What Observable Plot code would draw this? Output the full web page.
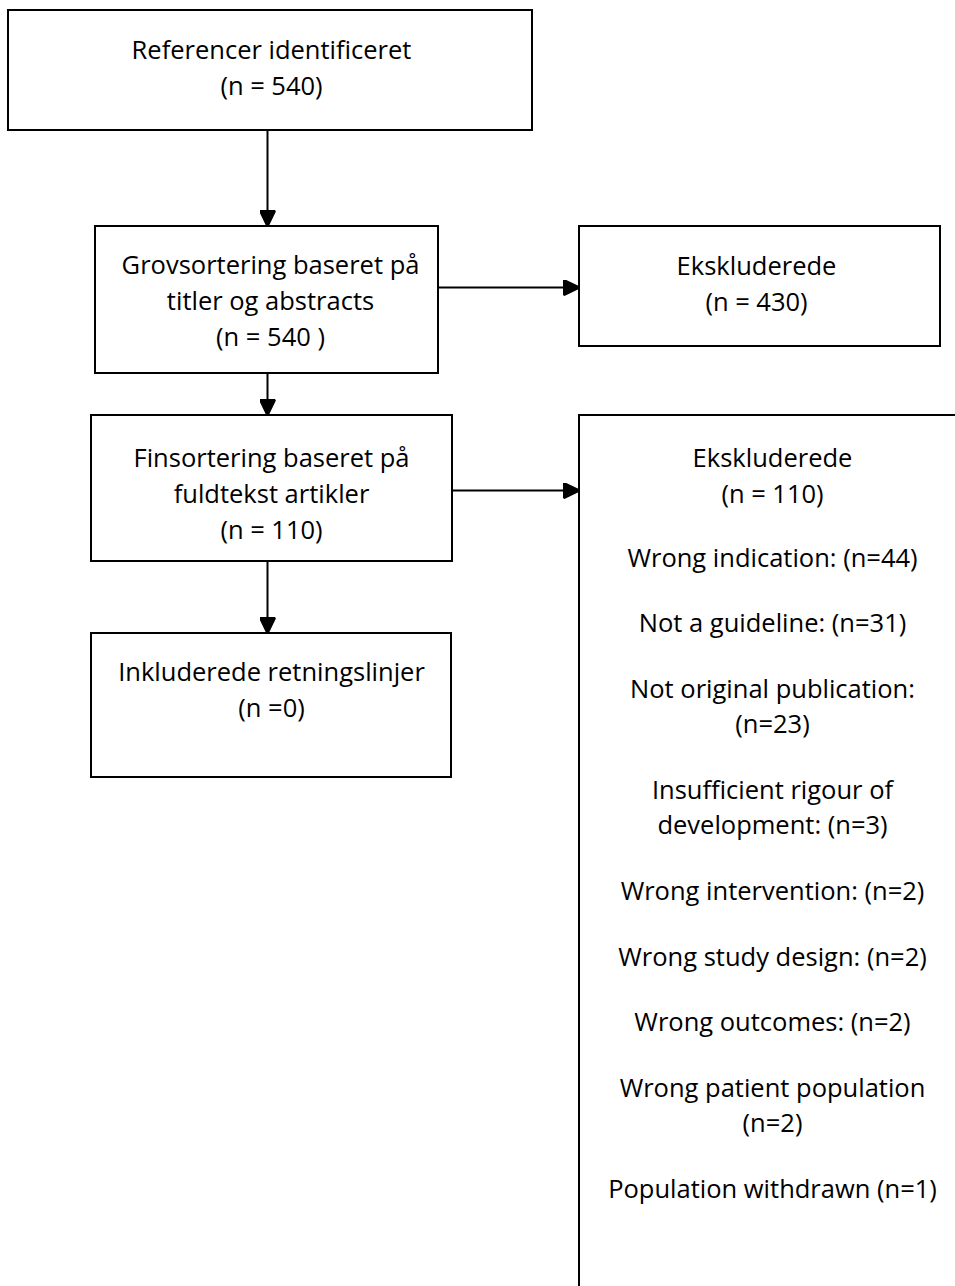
<!DOCTYPE html>
<html>
<head>
<meta charset="utf-8">
<script src="https://cdn.jsdelivr.net/npm/d3@7"></script>
<script src="https://cdn.jsdelivr.net/npm/@observablehq/plot@0.6"></script>
<style>
  html, body { margin: 0; padding: 0; background: #fff; }
  #chart svg { display: block; }
</style>
</head>
<body>
<div id="chart"></div>
<script>
// ---- Data (counts) ----
const stageNames = ["identified", "screened", "excluded1", "fulltext", "excluded2", "included"];
const stageCounts = [540, 540, 430, 110, 110, 0];
const reasonLabels = [
  "Wrong indication: (n={n})",
  "Not a guideline: (n={n})",
  "Not original publication:\n(n={n})",
  "Insufficient rigour of\ndevelopment: (n={n})",
  "Wrong intervention: (n={n})",
  "Wrong study design: (n={n})",
  "Wrong outcomes: (n={n})",
  "Wrong patient population\n(n={n})",
  "Population withdrawn (n={n})"
];
const reasonCounts = [44, 31, 23, 3, 2, 2, 2, 2, 1];

const count = (k) => stageCounts[stageNames.indexOf(k)];
const boxTexts = [
  ["Referencer identificeret", `(n = ${count("identified")})`],
  ["Grovsortering baseret på", "titler og abstracts", `(n = ${count("screened")} )`],
  ["Ekskluderede", `(n = ${count("excluded1")})`],
  ["Finsortering baseret på", "fuldtekst artikler", `(n = ${count("fulltext")})`],
  ["Inkluderede retningslinjer", `(n =${count("included")})`],
  ["Ekskluderede", `(n = ${count("excluded2")})`]
];

// ---- Layout ----
const boxLayout = [
  {x1: 8,   x2: 532, y1: 10,  y2: 130,  ty: 50,  tx: 271},
  {x1: 95,  x2: 438, y1: 226, y2: 373,  ty: 265, tx: 270},
  {x1: 579, x2: 940, y1: 226, y2: 346,  ty: 266, tx: 756},
  {x1: 91,  x2: 452, y1: 415, y2: 561,  ty: 458, tx: 271},
  {x1: 91,  x2: 451, y1: 633, y2: 777,  ty: 672, tx: 271},
  {x1: 579, x2: 990, y1: 415, y2: 1320, ty: 458, tx: 772}
];
const arrowLayout = [
  {x1: 267, y1: 130, x2: 267, y2: 226},
  {x1: 438, y1: 287, x2: 579, y2: 287},
  {x1: 267, y1: 373, x2: 267, y2: 415},
  {x1: 452, y1: 490, x2: 579, y2: 490},
  {x1: 267, y1: 561, x2: 267, y2: 633}
];
const LINE = 35.5, ITEM = 65.6;

const textRows = [];
boxTexts.forEach((lines, b) => {
  lines.forEach((t, i) => textRows.push({x: boxLayout[b].tx, y: boxLayout[b].ty + i * 36, text: t}));
});
{
  let y = 558;
  reasonLabels.forEach((lab, i) => {
    const lines = lab.replace("{n}", reasonCounts[i]).split("\n");
    lines.forEach((t, j) => { textRows.push({x: 772, y: y + j * LINE, text: t}); });
    y += (lines.length - 1) * LINE + ITEM;
  });
}

function triMarker(color, context) {
  return d3.create("svg:marker")
    .attr("viewBox", "-17 -8 18 16")
    .attr("markerWidth", 18)
    .attr("markerHeight", 16)
    .attr("markerUnits", "userSpaceOnUse")
    .attr("refX", 0)
    .attr("refY", 0)
    .attr("orient", "auto")
    .attr("fill", color)
    .call((m) => m.append("path").attr("d", "M-15.5,-7.5L0,0L-15.5,7.5Z"))
    .node();
}

const font = "'Open Sans', sans-serif";
const chart = Plot.plot({
  width: 955,
  height: 1286,
  margin: 0,
  x: {domain: [0, 955], range: [0, 955], axis: null},
  y: {domain: [0, 1286], range: [0, 1286], axis: null},
  marks: [
    Plot.rect(boxLayout, {x1: "x1", x2: "x2", y1: "y1", y2: "y2", fill: "white", stroke: "black", strokeWidth: 2, clip: true}),
    Plot.link(arrowLayout, {x1: "x1", y1: "y1", x2: "x2", y2: "y2", stroke: "black", strokeWidth: 2, markerEnd: triMarker}),
    Plot.text(textRows, {x: "x", y: "y", text: "text", fontSize: 25.5, fontFamily: font, fill: "black", lineAnchor: "middle", textAnchor: "middle"})
  ]
});
document.getElementById("chart").appendChild(chart);
</script>
</body>
</html>
